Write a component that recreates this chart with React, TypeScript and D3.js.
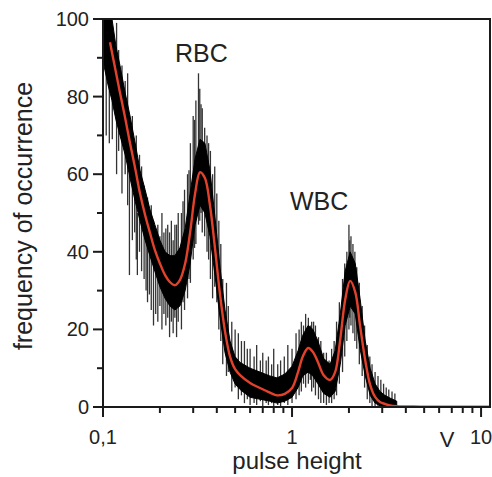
import React from "react";
import * as d3 from "d3";

// Red fitted curve (pulse height V, frequency)
const fitX = [0.1089, 0.1157, 0.123, 0.131, 0.139, 0.148, 0.157, 0.167, 0.177, 0.188, 0.2, 0.213, 0.226, 0.24, 0.255, 0.272, 0.289, 0.307, 0.326, 0.346, 0.368, 0.391, 0.416, 0.442, 0.47, 0.499, 0.531, 0.6, 0.677, 0.764, 0.833, 0.916, 1.0, 1.076, 1.14, 1.216, 1.29, 1.37, 1.47, 1.59, 1.69, 1.8, 1.91, 2.03, 2.16, 2.29, 2.44, 2.59, 2.75, 2.92, 3.1, 3.3, 3.58, 4.75, 11.2];
const fitY = [94, 87.5, 81, 74.5, 68, 61.5, 55, 49.5, 45, 40.5, 37, 34, 32.2, 31.4, 32.7, 37, 45, 55, 60.5, 59, 52, 41, 29, 19.5, 13, 9.8, 8.2, 6.2, 4.9, 3.7, 3.0, 3.4, 4.9, 9, 13, 15.2, 14.2, 11.6, 8.2, 7, 9, 17.5, 27.6, 32.5, 29.6, 21, 12, 5.7, 2.6, 1.3, 0.8, 0.4, 0.2, 0.1, 0.1];

// Measured histogram: dense core band (low / high)
const bandX = [0.1012, 0.1063, 0.1116, 0.1171, 0.123, 0.131, 0.139, 0.148, 0.157, 0.167, 0.177, 0.188, 0.2, 0.213, 0.226, 0.24, 0.255, 0.272, 0.289, 0.307, 0.326, 0.346, 0.368, 0.391, 0.416, 0.442, 0.47, 0.499, 0.531, 0.6, 0.677, 0.764, 0.833, 0.916, 1.0, 1.076, 1.14, 1.216, 1.29, 1.37, 1.47, 1.59, 1.69, 1.8, 1.91, 2.03, 2.16, 2.29, 2.44, 2.59, 2.75, 2.92, 3.1, 3.3, 3.58];
const bandLo = [88, 83, 79, 74, 70, 65, 59, 53, 48, 43, 39, 35, 31, 28, 26, 25, 26, 30, 37, 47, 52, 50, 44, 34, 23, 14, 9, 6, 4.5, 2.5, 2, 1.5, 1, 1.5, 2.5, 5, 8, 9, 8, 6, 3.5, 2.5, 4, 11, 21, 26, 24, 15, 8, 3, 1, 0.3, 0, 0, 0];
const bandHi = [104, 104, 100, 93, 88, 81, 75, 68, 61, 56, 51, 47, 43, 40, 39, 39, 41, 46, 55, 64, 69, 68, 61, 49, 36, 25, 17, 13, 11.5, 10, 9, 8, 7.5, 8.5, 10.5, 14.5, 18.5, 21, 20, 17, 12.5, 11, 14.5, 24, 35, 40, 37, 28, 17, 10, 6, 4, 3, 2.3, 1.5];

// Measured histogram: individual noise spikes (low / high)
const spikeX = [0.104, 0.108, 0.112, 0.118, 0.121, 0.126, 0.131, 0.135, 0.138, 0.143, 0.147, 0.15, 0.152, 0.156, 0.16, 0.165, 0.169, 0.172, 0.176, 0.18, 0.185, 0.19, 0.195, 0.2, 0.205, 0.21, 0.215, 0.22, 0.225, 0.23, 0.235, 0.24, 0.245, 0.25, 0.26, 0.265, 0.27, 0.28, 0.285, 0.29, 0.3, 0.305, 0.31, 0.32, 0.325, 0.33, 0.335, 0.345, 0.355, 0.362, 0.37, 0.38, 0.39, 0.4, 0.41, 0.42, 0.43, 0.45, 0.46, 0.48, 0.5, 0.52, 0.54, 0.56, 0.58, 0.6, 0.63, 0.65, 0.68, 0.7, 0.73, 0.75, 0.78, 0.8, 0.84, 0.87, 0.91, 0.95, 1.0, 1.05, 1.09, 1.12, 1.15, 1.18, 1.22, 1.25, 1.27, 1.3, 1.33, 1.38, 1.42, 1.47, 1.52, 1.57, 1.62, 1.67, 1.72, 1.78, 1.85, 1.9, 1.95, 2.0, 2.02, 2.05, 2.1, 2.15, 2.2, 2.27, 2.35, 2.42, 2.5, 2.58, 2.65, 2.75, 2.85, 2.95, 3.05, 3.15, 3.25, 3.38, 3.5];
const spikeLo = [70, 68, 69, 60, 66, 55, 60, 52, 34, 43, 45, 38, 34, 40, 35, 33, 30, 27, 29, 25, 21, 24, 22, 26, 20, 24, 21, 23, 18, 22, 19, 23, 18, 22, 20, 27, 25, 28, 33, 32, 38, 41, 42, 47, 48, 50, 45, 44, 40, 38, 33, 28, 31, 27, 20, 17, 11, 8, 9, 4, 5, 2, 3, 1, 2, 0.5, 1, 0.5, 1.5, 0, 1, 0.5, 1, 0, 0.5, 0, 1, 0.5, 1, 2, 3, 4, 6, 5, 6, 7, 4, 5, 3, 2, 1, 1, 0.5, 1, 1, 2, 3, 6, 9, 13, 17, 20, 23, 21, 19, 17, 15, 11, 8, 5, 2, 1, 0, 0, 0, 0, 0, 0, 0, 0, 0];
const spikeHi = [100, 100, 97, 99, 92, 88, 84, 86, 60, 75, 68, 70, 50, 65, 62, 57, 52, 54, 48, 52, 48, 46, 47, 44, 50, 45, 46, 47, 45, 48, 43, 47, 47, 50, 50, 53, 56, 60, 61, 68, 75, 74, 79, 86, 82, 78, 77, 72, 70, 68, 66, 60, 62, 55, 48, 42, 33, 32, 26, 22, 20, 19, 17, 17, 15, 15, 13, 16, 12, 14, 12, 13, 11, 15, 11, 12, 13, 16, 15, 19, 20, 22, 21, 24, 23, 21, 22, 22, 21, 18, 17, 14, 14, 12, 15, 17, 22, 27, 33, 37, 40, 47, 43, 44, 42, 40, 36, 32, 26, 21, 16, 13, 11, 9, 8, 7, 6, 5, 4.5, 4, 3.5];

const yTicks = [0, 20, 40, 60, 80, 100];
const yMinor = [10, 30, 50, 70, 90];
const xTicks = [0.1, 1, 10];
const xTickLabels = ["0,1", "1", "10"];
const xMinor = [0.2, 0.3, 0.4, 0.5, 0.6, 0.7, 0.8, 0.9, 2, 3, 4, 5, 6, 7, 8, 9];

const W = 492, H = 477;
const L = 103, R = 490, T = 19, B = 407;
const FONT = "'Liberation Sans', Arial, sans-serif";

export default function App() {
  const x = d3.scaleLog().domain([0.1, 11.15]).range([L, R]);
  const y = d3.scaleLinear().domain([0, 100]).range([B, T]);

  const fitLine = d3.line<number>()
    .x((_, i) => x(fitX[i]))
    .y((d) => y(d))
    .curve(d3.curveCatmullRom.alpha(0.5))(fitY) || "";

  const band = d3.area<number>()
    .x((_, i) => x(bandX[i]))
    .y0((_, i) => y(bandLo[i]))
    .y1((d) => y(d))
    .curve(d3.curveLinear)(bandHi) || "";

  const stroke = "#1a1a1a";
  return (
    <svg width={W} height={H} style={{ position: "absolute", left: 0, top: 0, background: "#fff" }} fontFamily={FONT}>
      <defs>
        <clipPath id="plot">
          <rect x={L} y={T} width={R - L} height={B - T} />
        </clipPath>
      </defs>
      <g clipPath="url(#plot)">
        {spikeX.map((v, i) => (
          <line key={i} x1={x(v)} x2={x(v)} y1={y(spikeLo[i])} y2={y(spikeHi[i])} stroke="#333" strokeWidth={1.3} />
        ))}
        <path d={band} fill="#000" stroke="#000" strokeWidth={1} />
        <path d={fitLine} fill="none" stroke="#e2422c" strokeWidth={2.4} />
      </g>
      {/* frame */}
      <rect x={L} y={T} width={R - L} height={B - T} fill="none" stroke={stroke} strokeWidth={2} />
      {/* y ticks */}
      {yTicks.map((t) => (
        <g key={t}>
          <line x1={L - 10} x2={L} y1={y(t)} y2={y(t)} stroke={stroke} strokeWidth={2} />
          <text x={L - 14} y={y(t)} dy="0.35em" textAnchor="end" fontSize={20} fill="#222">{t}</text>
        </g>
      ))}
      {yMinor.map((t) => (
        <line key={t} x1={L - 6} x2={L} y1={y(t)} y2={y(t)} stroke={stroke} strokeWidth={2} />
      ))}
      {/* x ticks */}
      {xTicks.map((t, i) => (
        <g key={t}>
          <line x1={x(t)} x2={x(t)} y1={B} y2={B + 10} stroke={stroke} strokeWidth={2} />
          <text x={x(t)} y={444} textAnchor="middle" fontSize={20} fill="#222">{xTickLabels[i]}</text>
        </g>
      ))}
      {xMinor.map((t) => (
        <line key={t} x1={x(t)} x2={x(t)} y1={B} y2={B + 6} stroke={stroke} strokeWidth={2} />
      ))}
      <text x={447} y={447} textAnchor="middle" fontSize={22} fill="#222">V</text>
      <text x={297} y={469} textAnchor="middle" fontSize={24} fill="#222">pulse height</text>
      <text transform="translate(32,216) rotate(-90)" textAnchor="middle" fontSize={25} fill="#222">frequency of occurrence</text>
      <text x={175} y={62} fontSize={25} fill="#222">RBC</text>
      <text x={290} y={210} fontSize={25} fill="#222">WBC</text>
    </svg>
  );
}
